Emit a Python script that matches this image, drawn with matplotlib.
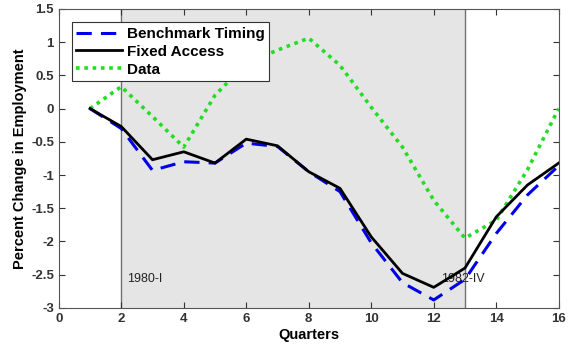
import numpy as np
import matplotlib.pyplot as plt

plt.rcParams['font.family'] = ['Liberation Sans', 'DejaVu Sans']

quarters = np.arange(1, 17)
benchmark = [0, -0.30, -0.93, -0.80, -0.82, -0.52, -0.57, -0.95, -1.25, -2.02, -2.62, -2.88, -2.57, -1.88, -1.30, -0.86]
fixed = [0, -0.27, -0.77, -0.65, -0.82, -0.46, -0.56, -0.95, -1.20, -1.93, -2.48, -2.69, -2.40, -1.63, -1.15, -0.82]
data = [0, 0.33, -0.12, -0.58, 0.20, 0.68, 0.88, 1.06, 0.65, 0.02, -0.58, -1.38, -1.95, -1.68, -0.92, 0.0]
recession = (2, 13)

fig = plt.figure(figsize=(5.76, 3.56), dpi=100)
ax = fig.add_axes([0.102, 0.135, 0.868, 0.840])

ax.axvspan(recession[0], recession[1], facecolor='#e5e5e5', edgecolor='none', zorder=0)
for xv in recession:
	ax.axvline(xv, color='#707070', lw=1.0, zorder=1)

ax.plot(quarters, benchmark, color='#0000e6', ls=(0, (5, 3)), lw=2.2, label='Benchmark Timing', zorder=3)
ax.plot(quarters, fixed, color='black', lw=2.0, label='Fixed Access', zorder=4)
ax.plot(quarters, data, color='#22dd22', ls=(0, (1, 1.3)), lw=2.6, label='Data', zorder=2)

ax.text(2.2, -2.57, '1980-I', fontsize=9, color='#222222', va='center')
ax.text(12.25, -2.57, '1982-IV', fontsize=9, color='#222222', va='center')

ax.set_xlim(0, 16)
ax.set_ylim(-3, 1.5)
ax.set_xticks(np.arange(0, 17, 2))
ax.set_yticks(np.arange(-3, 1.6, 0.5))
ax.set_yticklabels(['-3', '-2.5', '-2', '-1.5', '-1', '-0.5', '0', '0.5', '1', '1.5'])
ax.tick_params(direction='in', top=True, right=True, labelsize=9.5, colors='#333333', length=4, width=0.8)
for lbl in ax.get_xticklabels() + ax.get_yticklabels():
	lbl.set_fontweight('bold')
for sp in ax.spines.values():
	sp.set_color('#555555')
	sp.set_linewidth(0.8)

ax.set_xlabel('Quarters', fontsize=10.5, fontweight='bold', labelpad=2)
ax.set_ylabel('Percent Change in Employment', fontsize=10.5, fontweight='bold', labelpad=3)

leg = ax.legend(loc='upper left', bbox_to_anchor=(0.026, 0.955), fancybox=False, framealpha=1,
	edgecolor='#333333', prop={'weight': 'bold', 'size': 11}, handlelength=3.0,
	handletextpad=0.3, borderpad=0.3, labelspacing=0.25, borderaxespad=0)
leg.get_frame().set_linewidth(0.8)

fig.savefig('out.png', dpi=100)
